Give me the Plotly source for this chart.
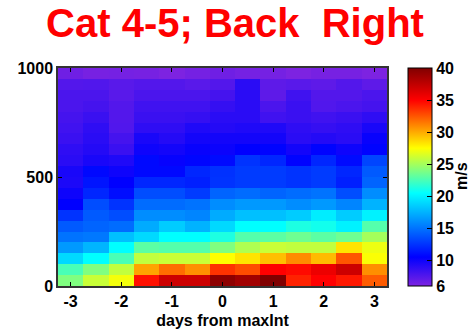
import plotly.graph_objects as go

# x: days from maxInt (column centers), y: height (row centers, m)
days = [-3, -2.5, -2, -1.5, -1, -0.5, 0, 0.5, 1, 1.5, 2, 2.5, 3]
heights = [25 + 50 * i for i in range(20)]

# wind speed (m/s), rows from bottom (25 m) to top (975 m)
row_0025 = [24.0, 26.0, 27.2, 34.5, 37.0, 37.0, 39.5, 38.7, 40.0, 34.0, 35.0, 34.3, 32.3]
row_0075 = [22.5, 24.0, 25.8, 30.2, 31.8, 30.8, 33.5, 32.8, 35.0, 34.7, 35.7, 37.0, 30.8]
row_0125 = [19.0, 20.5, 22.5, 25.8, 26.0, 26.0, 27.5, 28.3, 29.4, 30.9, 29.5, 32.5, 27.4]
row_0175 = [16.5, 17.6, 20.5, 23.0, 22.8, 22.8, 24.0, 25.3, 26.0, 25.8, 25.8, 28.3, 27.0]
row_0225 = [15.0, 15.2, 18.0, 19.0, 20.5, 20.5, 21.3, 22.8, 23.0, 23.5, 23.0, 23.5, 25.0]
row_0275 = [14.0, 14.4, 14.7, 17.2, 18.5, 17.5, 19.0, 20.5, 20.5, 21.3, 21.0, 20.0, 22.8]
row_0325 = [12.5, 14.0, 13.5, 16.0, 16.0, 15.7, 17.2, 18.0, 18.0, 18.5, 19.8, 18.5, 20.0]
row_0375 = [10.5, 13.5, 12.5, 14.7, 14.7, 15.0, 16.0, 16.5, 16.5, 16.0, 16.5, 15.7, 17.5]
row_0425 = [10.0, 12.0, 11.0, 13.5, 13.5, 12.8, 14.4, 14.7, 14.4, 14.7, 15.0, 13.5, 16.0]
row_0475 = [9.5, 11.3, 10.5, 12.0, 12.0, 11.7, 12.5, 12.8, 12.8, 12.5, 12.8, 11.7, 14.4]
row_0525 = [9.6, 10.8, 10.0, 10.8, 10.8, 12.0, 12.4, 12.8, 12.8, 12.5, 12.8, 12.0, 14.0]
row_0575 = [9.0, 9.6, 9.4, 10.8, 10.3, 10.7, 10.9, 12.5, 12.0, 10.6, 12.0, 10.9, 13.2]
row_0625 = [8.8, 9.2, 8.4, 10.0, 9.8, 10.2, 10.1, 10.5, 10.6, 9.8, 10.6, 10.0, 10.6]
row_0675 = [8.4, 9.0, 8.0, 9.6, 9.2, 9.8, 9.8, 9.8, 9.8, 9.0, 9.2, 9.0, 10.2]
row_0725 = [8.2, 8.8, 7.6, 8.8, 8.8, 9.4, 9.2, 9.4, 9.4, 8.8, 8.6, 8.8, 9.6]
row_0775 = [8.0, 8.4, 7.5, 8.4, 8.4, 8.6, 9.0, 9.0, 8.2, 8.4, 8.2, 8.4, 8.8]
row_0825 = [7.8, 8.0, 7.5, 8.2, 8.2, 8.2, 8.6, 9.0, 7.8, 8.4, 7.6, 7.8, 8.0]
row_0875 = [7.8, 7.8, 7.3, 7.8, 7.8, 7.8, 8.0, 9.0, 7.1, 8.2, 7.5, 7.5, 7.8]
row_0925 = [7.5, 7.6, 7.3, 7.5, 7.5, 7.3, 7.5, 9.0, 7.1, 7.3, 7.1, 7.5, 7.1]
row_0975 = [6.5, 6.2, 6.3, 6.2, 6.0, 6.3, 6.5, 6.3, 6.3, 6.0, 6.2, 6.2, 6.0]

speed = [row_0025, row_0075, row_0125, row_0175, row_0225, row_0275, row_0325,
         row_0375, row_0425, row_0475, row_0525, row_0575, row_0625, row_0675,
         row_0725, row_0775, row_0825, row_0875, row_0925, row_0975]

xtick_vals = [-3, -2, -1, 0, 1, 2, 3]
xtick_text = ["-3", "-2", "-1", "0", "1", "2", "3"]
ytick_vals = [0, 500, 1000]
cbar_ticks = [6, 10, 15, 20, 25, 30, 35, 40]
zmin, zmax = 6, 40

# colormap stops given in data units (jet-like with violet low end)
cmap_vals = [6, 10.5, 15.5, 20.5, 24, 27.5, 31.25, 35, 40]
cmap_cols = ["rgb(125,35,225)", "rgb(0,0,255)", "rgb(0,128,255)", "rgb(0,255,255)",
             "rgb(128,255,128)", "rgb(255,255,0)", "rgb(255,128,0)", "rgb(255,0,0)",
             "rgb(128,0,0)"]
colorscale = [[(v - zmin) / (zmax - zmin), c] for v, c in zip(cmap_vals, cmap_cols)]

tick_font = dict(family="Liberation Sans, Arial, sans-serif", size=16, color="black", weight="bold")

W, H = 475, 334

fig = go.Figure(go.Heatmap(
    x=days, y=heights, z=speed, zmin=zmin, zmax=zmax,
    colorscale=colorscale,
    colorbar=dict(
        x=1.065, xanchor="left", xpad=0, y=0.5, yanchor="middle", len=1.0, ypad=0,
        lenmode="fraction", thickness=24, thicknessmode="pixels",
        outlinewidth=1, outlinecolor="black",
        tickvals=cbar_ticks, ticks="inside", ticklen=5, tickcolor="black",
        tickfont=tick_font,
    ),
))

axis_common = dict(showline=True, linecolor="#333333", linewidth=1.5, mirror="ticks",
                   ticks="inside", ticklen=4, tickcolor="black", tickwidth=1,
                   showgrid=False, zeroline=False, tickfont=tick_font, automargin=False)

fig.update_xaxes(range=[-3.25, 3.25], tickvals=xtick_vals, ticktext=xtick_text,
                 title=dict(text="days from maxInt", font=tick_font, standoff=6), **axis_common)
fig.update_yaxes(range=[0, 1000], tickvals=ytick_vals, **axis_common)

fig.add_annotation(text="m/s", textangle=-90, x=1.228, y=0.505, xref="paper", yref="paper",
                   xanchor="center", yanchor="middle", showarrow=False, font=tick_font)

fig.update_layout(
    width=W, height=H,
    margin=dict(l=58, r=88, t=68, b=48),
    paper_bgcolor="white", plot_bgcolor="white",
    title=dict(text="Cat 4-5; Back\u00a0\u00a0Right", x=235 / W, xanchor="center", xref="container",
               y=1 - 22.5 / H, yanchor="middle", yref="container",
               font=dict(family="Liberation Sans, Arial, sans-serif", size=40, color="red", weight="bold")),
)

# remove the default 8px page margin so the figure fills the window exactly
fig.write_html("out.html", config={"displayModeBar": False},
               post_script="document.body.style.margin='0';")
